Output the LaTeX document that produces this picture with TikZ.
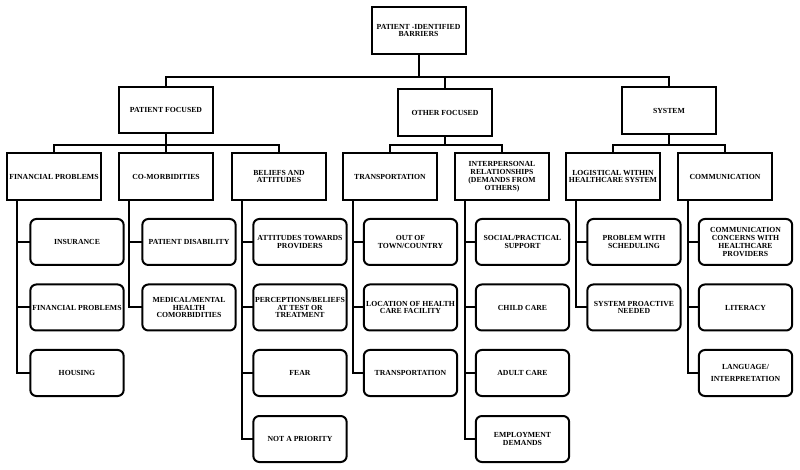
\documentclass[tikz,border=0pt]{standalone}
\usepackage{fontspec}
\setmainfont{Liberation Serif}
\usetikzlibrary{calc}
\begin{document}
\begin{tikzpicture}[x=0.75pt,y=-0.75pt,
  lw/.style={line width=1.5pt},
  sqbox/.style={draw,lw,rectangle,minimum width=70.5pt,minimum height=35pt,inner sep=0pt,outer sep=0pt,align=center,
    font=\fontsize{5.8}{5.9}\selectfont\bfseries},
  rbox/.style={sqbox,rounded corners=4.5pt,minimum width=70pt,minimum height=34.5pt},
  conn/.style={lw}]
\useasboundingbox (0,0) rectangle (800,470);
% level 0
\node[sqbox] (top) at (418.5,30.5) {PATIENT -IDENTIFIED\\BARRIERS};
% level 1
\node[sqbox] (pf) at (166,110) {PATIENT FOCUSED};
\node[sqbox] (of) at (445,112.5) {OTHER FOCUSED};
\node[sqbox] (sys) at (669,110.5) {SYSTEM};
% level 2
\node[sqbox] (fin) at (54,176.5) {FINANCIAL PROBLEMS};
\node[sqbox] (com) at (166,176.5) {CO-MORBIDITIES};
\node[sqbox] (bel) at (279,176.5) {BELIEFS AND\\ATTITUDES};
\node[sqbox] (tra) at (390,176.5) {TRANSPORTATION};
\node[sqbox] (int) at (502,176.5) {INTERPERSONAL\\RELATIONSHIPS\\(DEMANDS FROM\\OTHERS)};
\node[sqbox] (log) at (613,176.5) {LOGISTICAL WITHIN\\HEALTHCARE SYSTEM};
\node[sqbox] (cmm) at (725,176.5) {COMMUNICATION};
% level 3
\node[rbox] (fin1) at (77,242) {INSURANCE};
\node[rbox] (fin2) at (77,307.5) {FINANCIAL PROBLEMS};
\node[rbox] (fin3) at (77,373) {HOUSING};
\node[rbox] (com1) at (189,242) {PATIENT DISABILITY};
\node[rbox] (com2) at (189,307.5) {MEDICAL/MENTAL\\HEALTH\\COMORBIDITIES};
\node[rbox] (bel1) at (300,242) {ATTITUDES TOWARDS\\PROVIDERS};
\node[rbox] (bel2) at (300,307.5) {PERCEPTIONS/BELIEFS\\AT TEST OR\\TREATMENT};
\node[rbox] (bel3) at (300,373) {FEAR};
\node[rbox] (bel4) at (300,439) {NOT A PRIORITY};
\node[rbox] (tra1) at (410.5,242) {OUT OF\\TOWN/COUNTRY};
\node[rbox] (tra2) at (410.5,307.5) {LOCATION OF HEALTH\\CARE FACILITY};
\node[rbox] (tra3) at (410.5,373) {TRANSPORTATION};
\node[rbox] (int1) at (522.5,242) {SOCIAL/PRACTICAL\\SUPPORT};
\node[rbox] (int2) at (522.5,307.5) {CHILD CARE};
\node[rbox] (int3) at (522.5,373) {ADULT CARE};
\node[rbox] (int4) at (522.5,439) {EMPLOYMENT\\DEMANDS};
\node[rbox] (log1) at (634,242) {PROBLEM WITH\\SCHEDULING};
\node[rbox] (log2) at (634,307.5) {SYSTEM PROACTIVE\\NEEDED};
\node[rbox] (cmm1) at (745.5,242) {COMMUNICATION\\CONCERNS WITH\\HEALTHCARE\\PROVIDERS};
\node[rbox] (cmm2) at (745.5,307.5) {LITERACY};
\node[rbox] (cmm3) at (745.5,373) {LANGUAGE/\\[2.5pt]INTERPRETATION};
% connectors level 0 -> 1
\coordinate (j0) at (418.5,77);
\draw[conn] (top.south) -- (j0);
\draw[conn] (pf.north) |- (j0);
\draw[conn] (sys.north) |- (j0);
\draw[conn] (of.north) |- (j0);
% level 1 -> 2
\coordinate (j1) at (166,145);
\coordinate (j2) at (445,145);
\coordinate (j3) at (669,145);
\draw[conn] (pf.south) -- (j1);
\draw[conn] (fin.north) |- (j1);
\draw[conn] (com.north) |- (j1);
\draw[conn] (bel.north) |- (j1);
\draw[conn] (of.south) -- (j2);
\draw[conn] (tra.north) |- (j2);
\draw[conn] (int.north) |- (j2);
\draw[conn] (sys.south) -- (j3);
\draw[conn] (log.north) |- (j3);
\draw[conn] (cmm.north) |- (j3);
% level 2 -> 3
\foreach \p/\list in {fin/{fin1,fin2,fin3},com/{com1,com2},bel/{bel1,bel2,bel3,bel4},tra/{tra1,tra2,tra3},int/{int1,int2,int3,int4},log/{log1,log2},cmm/{cmm1,cmm2,cmm3}}{
  \foreach \c in \list {
    \draw[conn] ($(\p.south west)+(10,0)$) |- (\c.west);
  }
}
\end{tikzpicture}
\end{document}
